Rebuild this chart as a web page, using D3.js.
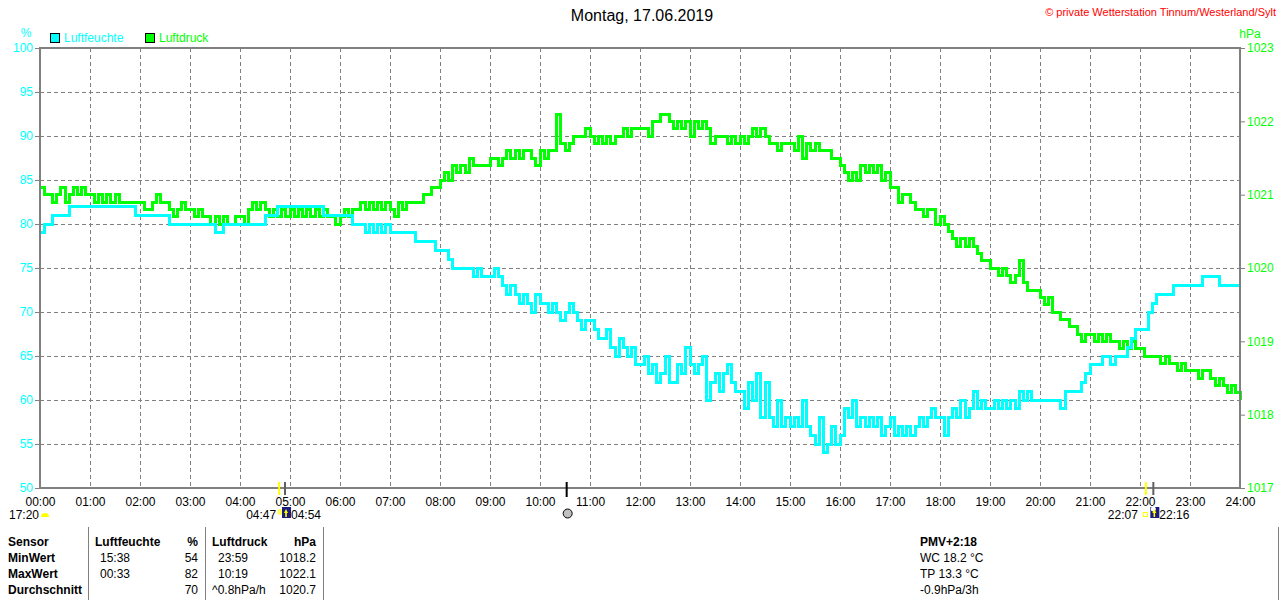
<!DOCTYPE html>
<html>
<head>
<meta charset="utf-8">
<script src="https://cdn.jsdelivr.net/npm/d3@7"></script>
<style>
  body { margin: 0; background: #fff; }
  text { font-family: "Liberation Sans", Arial, sans-serif; }
</style>
</head>
<body>
<div id="chart"></div>
<script>
// 5-minute readings, one row per hour (00:00 .. 23:55) plus the 24:00 value
var humidity = [
  79,80,80,81,81,81,81,82,82,82,82,82,
  82,82,82,82,82,82,82,82,82,82,82,81,
  81,81,81,81,81,81,81,80,80,80,80,80,
  80,80,80,80,80,80,79,79,80,80,80,80,
  80,80,80,80,80,80,81,81,81,82,82,82,
  82,82,82,82,82,82,82,82,81,81,81,81,
  81,81,81,80,80,80,79,80,79,80,79,80,
  79,79,79,79,79,79,78,78,78,78,78,77,
  77,77,76,75,75,75,75,75,74,75,74,74,
  74,75,74,73,72,73,72,71,72,71,70,72,
  71,71,70,71,70,69,70,71,70,69,68,69,
  69,68,67,67,68,66,65,67,66,65,66,64,
  64,65,63,64,62,63,65,62,62,64,63,66,
  64,63,64,65,60,62,63,61,63,64,62,61,
  61,59,62,60,63,58,62,58,57,60,57,58,
  57,58,57,60,57,56,55,58,54,55,57,55,
  56,59,58,60,57,58,57,58,57,58,56,57,
  58,56,57,56,57,56,57,58,57,58,59,58,
  58,56,58,59,58,60,58,59,61,59,60,59,
  59,60,59,60,59,60,59,61,60,61,60,60,
  60,60,60,60,60,59,61,61,61,61,62,63,
  64,64,64,65,65,64,65,65,65,66,67,68,
  68,68,70,71,72,72,72,72,73,73,73,73,
  73,73,73,74,74,74,74,73,73,73,73,73,
  73
];
var pressure = [
  1021.1,1021.0,1021.0,1020.9,1021.0,1021.1,1020.9,1021.0,1021.1,1021.0,1021.1,1021.0,
  1021.0,1020.9,1021.0,1020.9,1021.0,1020.9,1021.0,1020.9,1020.9,1020.9,1020.9,1020.9,
  1020.9,1020.8,1020.8,1020.9,1021.0,1020.9,1020.9,1020.8,1020.7,1020.8,1020.9,1020.8,
  1020.8,1020.7,1020.8,1020.7,1020.7,1020.6,1020.7,1020.6,1020.7,1020.6,1020.6,1020.7,
  1020.7,1020.6,1020.8,1020.9,1020.8,1020.9,1020.8,1020.7,1020.8,1020.7,1020.8,1020.7,
  1020.8,1020.7,1020.8,1020.7,1020.8,1020.7,1020.8,1020.7,1020.8,1020.7,1020.7,1020.6,
  1020.7,1020.8,1020.7,1020.8,1020.8,1020.9,1020.8,1020.9,1020.8,1020.9,1020.8,1020.9,
  1020.8,1020.7,1020.9,1020.8,1020.9,1020.9,1020.9,1020.9,1021.0,1021.0,1021.1,1021.1,
  1021.2,1021.3,1021.2,1021.4,1021.3,1021.4,1021.3,1021.5,1021.4,1021.4,1021.4,1021.4,
  1021.5,1021.5,1021.4,1021.5,1021.6,1021.5,1021.6,1021.5,1021.6,1021.6,1021.5,1021.4,
  1021.6,1021.5,1021.6,1021.6,1022.1,1021.7,1021.6,1021.7,1021.8,1021.8,1021.8,1021.9,
  1021.8,1021.7,1021.8,1021.7,1021.8,1021.7,1021.8,1021.8,1021.9,1021.8,1021.9,1021.9,
  1021.9,1021.9,1021.8,1022.0,1022.0,1022.1,1022.1,1022.0,1021.9,1022.0,1021.9,1022.0,
  1021.8,1022.0,1021.9,1022.0,1021.9,1021.7,1021.8,1021.8,1021.8,1021.7,1021.8,1021.7,
  1021.8,1021.7,1021.8,1021.9,1021.8,1021.9,1021.8,1021.7,1021.7,1021.6,1021.7,1021.7,
  1021.7,1021.6,1021.8,1021.5,1021.7,1021.6,1021.7,1021.6,1021.6,1021.6,1021.5,1021.5,
  1021.4,1021.3,1021.2,1021.3,1021.2,1021.4,1021.3,1021.4,1021.3,1021.4,1021.2,1021.3,
  1021.1,1021.1,1020.9,1021.0,1021.0,1020.9,1020.8,1020.8,1020.7,1020.8,1020.8,1020.6,
  1020.7,1020.6,1020.5,1020.4,1020.3,1020.4,1020.3,1020.4,1020.3,1020.2,1020.1,1020.1,
  1020.0,1020.0,1019.9,1020.0,1019.9,1019.8,1019.9,1020.1,1019.8,1019.7,1019.7,1019.7,
  1019.6,1019.5,1019.6,1019.4,1019.4,1019.3,1019.3,1019.2,1019.2,1019.1,1019.0,1019.1,
  1019.1,1019.0,1019.1,1019.0,1019.1,1019.0,1019.0,1018.9,1019.0,1018.9,1019.0,1018.9,
  1018.9,1018.8,1018.8,1018.8,1018.8,1018.7,1018.8,1018.7,1018.7,1018.6,1018.7,1018.6,
  1018.6,1018.6,1018.5,1018.6,1018.6,1018.5,1018.4,1018.5,1018.4,1018.3,1018.4,1018.3,
  1018.2
];
var minutes = d3.range(0, 24 * 60 + 1, 5);

var hourLabels = ["00:00","01:00","02:00","03:00","04:00","05:00","06:00","07:00","08:00",
  "09:00","10:00","11:00","12:00","13:00","14:00","15:00","16:00","17:00","18:00","19:00",
  "20:00","21:00","22:00","23:00","24:00"];
var humTicks = [50,55,60,65,70,75,80,85,90,95,100];
var presTicks = [1017,1018,1019,1020,1021,1022,1023];

// sun / moon times
var sunrise = "04:47", dawnEnd = "04:54", sunset = "22:07", duskEnd = "22:16", noon = "10:32";
var prevSunset = "17:20";

var tableHead = ["Sensor", "Luftfeuchte", "%", "Luftdruck", "hPa"];
var tableRows = [
  ["MinWert", "15:38", "54", "23:59", "1018.2"],
  ["MaxWert", "00:33", "82", "10:19", "1022.1"],
  ["Durchschnitt", "", "70", "^0.8hPa/h", "1020.7"]
];
var extraLines = ["PMV+2:18", "WC 18.2 °C", "TP 13.3 °C", "-0.9hPa/3h"];

var W = 1280, H = 600;
var pL = 40, pR = 1240, pT = 48, pB = 488;
var cyan = "#00ffff", green = "#00ff00", gray = "#808080";

var svg = d3.select("#chart").append("svg")
  .attr("width", W).attr("height", H);

var x = d3.scaleLinear().domain([0, 1440]).range([pL, pR]);
var yH = d3.scaleLinear().domain([50, 100]).range([pB, pT]);
var yP = d3.scaleLinear().domain([1017, 1023]).range([pB, pT]);

function toMin(s) { var p = s.split(":"); return +p[0] * 60 + +p[1]; }

// grid
svg.append("g").selectAll("line")
  .data(humTicks.slice(1, -1)).enter().append("line")
  .attr("x1", pL).attr("x2", pR)
  .attr("y1", function(d) { return Math.round(yH(d)) + 0.5; })
  .attr("y2", function(d) { return Math.round(yH(d)) + 0.5; })
  .attr("stroke", gray).attr("stroke-dasharray", "4,3");
svg.append("g").selectAll("line")
  .data(d3.range(1, 24)).enter().append("line")
  .attr("y1", pT).attr("y2", pB)
  .attr("x1", function(d) { return x(d * 60) + 0.5; })
  .attr("x2", function(d) { return x(d * 60) + 0.5; })
  .attr("stroke", gray).attr("stroke-dasharray", "4,3");

// axes
var axL = svg.append("g").attr("transform", "translate(" + pL + ",0)")
  .call(d3.axisLeft(yH).tickValues(humTicks).tickSize(5).tickPadding(2));
axL.select(".domain").remove();
axL.selectAll("line").attr("stroke", gray);
axL.selectAll("text").attr("fill", cyan).style("font-size", "12px");

var axR = svg.append("g").attr("transform", "translate(" + pR + ",0)")
  .call(d3.axisRight(yP).tickValues(presTicks).tickFormat(d3.format("d")).tickSize(5).tickPadding(2));
axR.select(".domain").remove();
axR.selectAll("line").attr("stroke", gray);
axR.selectAll("text").attr("fill", green).style("font-size", "12px");

var axB = svg.append("g").attr("transform", "translate(0," + pB + ")")
  .call(d3.axisBottom(x).tickValues(d3.range(0, 1441, 60))
    .tickFormat(function(d, i) { return hourLabels[i]; }).tickSize(0).tickPadding(9));
axB.select(".domain").remove();
axB.selectAll("text").attr("fill", "#000").style("font-size", "12px");

// lines
var lineP = d3.line()
  .x(function(d, i) { return x(minutes[i]); })
  .y(function(d) { return yP(d); })
  .curve(d3.curveStepAfter);
var lineH = d3.line()
  .x(function(d, i) { return x(minutes[i]); })
  .y(function(d) { return yH(d); })
  .curve(d3.curveStepAfter);

svg.append("path").datum(pressure)
  .attr("d", lineP).attr("fill", "none")
  .attr("stroke", green).attr("stroke-width", 3)
  .attr("shape-rendering", "crispEdges");
svg.append("path").datum(humidity)
  .attr("d", lineH).attr("fill", "none")
  .attr("stroke", cyan).attr("stroke-width", 3)
  .attr("shape-rendering", "crispEdges");

// frame
svg.append("rect")
  .attr("x", pL).attr("y", pT)
  .attr("width", pR - pL).attr("height", pB - pT)
  .attr("fill", "none").attr("stroke", gray).attr("stroke-width", 2);

// titles and units
svg.append("text").attr("x", 642).attr("y", 21).attr("text-anchor", "middle")
  .style("font-size", "16px").attr("fill", "#000").text("Montag, 17.06.2019");
svg.append("text").attr("x", 1276).attr("y", 16).attr("text-anchor", "end")
  .style("font-size", "11px").attr("fill", "#ff0000")
  .text("© private Wetterstation Tinnum/Westerland/Sylt");
svg.append("text").attr("x", 26).attr("y", 37).attr("text-anchor", "middle")
  .style("font-size", "12px").attr("fill", cyan).text("%");
svg.append("text").attr("x", 1250).attr("y", 38).attr("text-anchor", "middle")
  .style("font-size", "12px").attr("fill", green).text("hPa");

// legend
var legend = [["Luftfeuchte", cyan, 50], ["Luftdruck", green, 145]];
legend.forEach(function(l) {
  svg.append("rect").attr("x", l[2] + 0.5).attr("y", 33.5).attr("width", 9).attr("height", 9)
    .attr("fill", l[1]).attr("stroke", "#000");
  svg.append("text").attr("x", l[2] + 14).attr("y", 42)
    .style("font-size", "12px").attr("fill", l[1]).text(l[0]);
});

// sun markers under the axis
function bar(t, color, y1, y2) {
  svg.append("rect").attr("x", x(toMin(t)) - 1).attr("y", y1)
    .attr("width", 2).attr("height", y2 - y1).attr("fill", color);
}
bar(sunrise, "#ffff00", 482, 495);
bar(dawnEnd, "#606060", 482, 495);
bar(sunset, "#ffff00", 482, 495);
bar(duskEnd, "#606060", 482, 495);
bar(noon, "#000", 482, 497);

function label(t, x0, anchor) {
  svg.append("text").attr("x", x0).attr("y", 519).attr("text-anchor", anchor)
    .style("font-size", "12px").attr("fill", "#000").text(t);
}
label(prevSunset, 9, "start");
svg.append("path").attr("d", "M41,517 A4,4 0 0 1 49,517 Z").attr("fill", "#ffff00");

function dayIcon(t, moonish) {
  var cx = x(toMin(t));
  svg.append("rect").attr("x", cx - 3).attr("y", 507).attr("width", 9).attr("height", 11)
    .attr("fill", "#1c1c80");
  if (moonish) svg.append("circle").attr("cx", cx).attr("cy", 509).attr("r", 2.5).attr("fill", "#fff");
  svg.append("path").attr("d", "M" + (cx + 1) + "," + 509 + " l-2,4 h1.2 v4 h1.6 v-4 h1.2 Z")
    .attr("fill", "#ffff00");
}
label(sunrise, x(toMin(sunrise)) - 3, "end");
svg.append("circle").attr("cx", x(toMin(sunrise)) + 1).attr("cy", 512).attr("r", 3).attr("fill", "#ffff60");
dayIcon(dawnEnd, false);
label(dawnEnd, x(toMin(dawnEnd)) + 6, "start");

label(sunset, x(toMin(sunset)) - 8, "end");
svg.append("rect").attr("x", x(toMin(sunset)) - 2.5).attr("y", 512.5).attr("width", 4).attr("height", 4)
  .attr("fill", "none").attr("stroke", "#ffff00");
dayIcon(duskEnd, true);
label(duskEnd, x(toMin(duskEnd)) + 6, "start");

svg.append("circle").attr("cx", x(toMin(noon)) + 1).attr("cy", 513.5).attr("r", 4.5)
  .attr("fill", "#c0c0c0").attr("stroke", "#000");

// table
[88, 205, 323].forEach(function(px) {
  svg.append("line").attr("x1", px + 0.5).attr("x2", px + 0.5).attr("y1", 527).attr("y2", 600)
    .attr("stroke", gray);
});
svg.append("line").attr("x1", 1278.5).attr("x2", 1278.5).attr("y1", 527).attr("y2", 600)
  .attr("stroke", gray);

var colX = [8, 95, 198, 212, 316];
var colA = ["start", "start", "end", "start", "end"];
tableHead.forEach(function(t, i) {
  svg.append("text").attr("x", colX[i]).attr("y", 546).attr("text-anchor", colA[i])
    .style("font-size", "12px").style("font-weight", "bold").attr("fill", "#000").text(t);
});
var rowX = [8, 100, 198, 218, 316];
tableRows.forEach(function(r, j) {
  r.forEach(function(t, i) {
    var xx = rowX[i];
    if (i === 3 && t.charAt(0) === "^") xx = 212;
    svg.append("text").attr("x", xx).attr("y", 562 + j * 16).attr("text-anchor", colA[i])
      .style("font-size", "12px").style("font-weight", i === 0 ? "bold" : "normal")
      .attr("fill", "#000").text(t);
  });
});
extraLines.forEach(function(t, j) {
  svg.append("text").attr("x", 920).attr("y", 546 + j * 16)
    .style("font-size", "12px").style("font-weight", j === 0 ? "bold" : "normal")
    .attr("fill", "#000").text(t);
});
</script>
</body>
</html>
